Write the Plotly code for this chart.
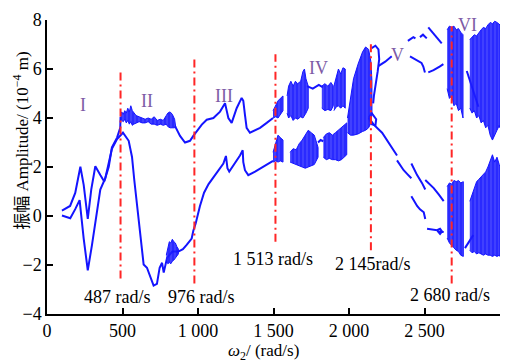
import plotly.graph_objects as go

BLUE = "#1414ff"
RED = "#ff2626"
PURPLE = "#7d5ba6"
SERIF = "Liberation Serif, Times New Roman, serif"

# ---------------- data (omega_2 in rad/s, amplitude in 1e-4 m) ----------------
# periodic branch that rises to the band at 487 rad/s
branch_a_x = [99, 153, 187, 221, 243, 270, 293, 320, 353, 379, 409, 430, 464, 485, 487]
branch_a_y = [0.22, 0.41, 0.94, 2.01, 1.27, -0.12, 1.08, 2.03, 1.67, 1.41, 2.01, 2.80, 3.20, 3.60, 4.05]

# lower periodic branch, region I to the start of region IV
branch_b_x = [99, 154, 187, 216, 243, 270, 298, 331, 353, 386, 430, 464, 503, 541, 563, 578,
              601, 623, 640, 662, 684, 706, 728, 746, 762, 773, 795, 830, 870, 900, 925, 958,
              969, 985, 1013, 1040, 1070, 1124, 1168, 1185, 1195, 1207, 1245, 1278, 1296, 1300,
              1311, 1333, 1378, 1433, 1497]
branch_b_y = [0.02, -0.09, 0.28, 0.65, -0.92, -2.22, -1.18, 0.15, 1.08, 1.54, 2.74, 3.14, 3.40,
              3.07, 2.41, 1.47, 0.15, -1.18, -1.98, -2.11, -2.51, -2.84, -2.77, -2.11, -1.91,
              -2.31, -1.71, -1.45, -1.45, -1.35, -1.18, -0.92, -0.60, -0.30, 0.41, 0.95, 1.30,
              1.74, 2.14, 2.45, 1.95, 1.81, 2.14, 2.47, 2.68, 2.20, 1.87, 1.67, 1.81, 2.01, 2.25]

# upper periodic branch, end of region II through region III
branch_c_x = [848, 881, 914, 947, 969, 991, 1025, 1058, 1102, 1146, 1179, 1190, 1201, 1223,
              1256, 1289, 1300, 1311, 1322, 1344, 1411, 1455, 1497]
branch_c_y = [3.67, 3.27, 3.00, 3.07, 3.27, 3.47, 3.73, 3.93, 4.00, 4.26, 4.60, 4.30, 4.00,
              3.80, 4.40, 4.82, 4.70, 4.13, 3.60, 3.40, 3.60, 3.80, 4.00]

# short periodic pieces in regions IV and V
pieces = [
    ([1722, 1760, 1800, 1828], [5.30, 5.20, 5.35, 5.25]),
    ([1795, 1812, 1830], [3.00, 3.10, 3.05]),
    ([2150, 2175, 2195, 2200, 2190, 2175, 2165, 2160], [6.85, 6.95, 6.80, 6.40, 5.90, 5.40, 4.90, 4.60]),
    ([2194, 2240, 2283], [6.12, 6.30, 6.52]),
    ([2390, 2426, 2440], [7.15, 7.30, 7.25]),
    ([2470, 2490, 2515], [7.30, 7.40, 7.25]),
    ([2525, 2570, 2614], [7.70, 7.35, 7.05]),
    ([2404, 2440, 2480, 2492, 2503], [6.52, 6.40, 6.25, 6.10, 5.86]),
    ([2525, 2560, 2600, 2625], [5.86, 5.95, 6.10, 6.20]),
    ([2131, 2164, 2219, 2263, 2307, 2318], [4.01, 3.73, 3.40, 3.00, 2.61, 2.47]),
    ([2318, 2345, 2362, 2388, 2413], [2.27, 2.01, 1.87, 1.70, 1.54]),
    ([2413, 2431, 2451, 2484, 2505], [2.14, 1.90, 1.67, 1.34, 1.08]),
    ([2505, 2561, 2594, 2627], [1.47, 1.14, 0.88, 0.61]),
    ([2413, 2431, 2451, 2470, 2495, 2505], [0.81, 0.61, 0.41, 0.27, 0.15, -0.12]),
    ([2517, 2550, 2583, 2603, 2616, 2603, 2586, 2627], [-0.52, -0.54, -0.58, -0.52, -0.63, -0.73, -0.61, -0.65]),
    ([2131, 2150, 2180, 2175, 2150, 2131], [4.01, 4.20, 3.95, 3.70, 3.75, 4.01]),
    ([2780, 2820, 2857], [5.92, 5.20, 4.46]),
    ([2768, 2795, 2823], [-1.31, -1.05, -0.78]),
]

# chaotic bands: sampled x with upper and lower envelope of the Poincare points
bands = [
    # region II, upper
    ([487, 495, 505, 515, 525, 535, 545, 555, 565, 575, 590, 610, 630, 650, 670, 690, 710,
      730, 750, 770, 790, 800, 815, 830, 845, 852],
     [4.10, 4.25, 4.15, 4.30, 4.20, 4.40, 4.25, 4.50, 4.30, 4.20, 4.10, 4.05, 4.00, 3.95,
      4.00, 3.95, 4.05, 3.90, 3.95, 3.90, 4.10, 4.20, 4.25, 4.15, 3.95, 3.75],
     [3.95, 3.90, 3.85, 3.95, 3.80, 3.90, 3.75, 3.85, 3.70, 3.75, 3.80, 3.85, 3.80, 3.80,
      3.85, 3.75, 3.75, 3.70, 3.75, 3.70, 3.75, 3.65, 3.60, 3.60, 3.60, 3.65]),
    # region II, lower
    ([790, 800, 810, 820, 830, 840, 850, 860, 870],
     [-1.60, -1.30, -1.05, -1.10, -0.95, -1.05, -1.10, -1.25, -1.35],
     [-1.80, -1.95, -1.90, -1.95, -1.85, -1.80, -1.70, -1.65, -1.55]),
    # region IV, upper
    ([1497, 1515, 1530, 1545, 1563], [4.30, 4.50, 4.70, 4.80, 4.90], [4.00, 4.05, 4.00, 4.15, 4.30]),
    ([1590, 1600, 1615, 1630, 1645, 1660, 1680, 1695, 1705, 1715, 1730],
     [4.90, 5.30, 5.50, 5.30, 5.50, 5.40, 5.50, 5.90, 6.00, 5.60, 5.30],
     [4.20, 4.00, 4.10, 3.90, 4.00, 3.95, 4.05, 4.00, 4.10, 4.20, 4.40]),
    ([1820, 1840, 1860, 1880, 1896], [5.30, 5.40, 5.30, 5.45, 5.30], [4.40, 4.30, 4.35, 4.30, 4.50]),
    ([1900, 1915, 1930, 1945, 1960, 1975], [5.30, 5.60, 6.00, 5.80, 6.05, 6.00],
     [4.30, 4.45, 4.50, 4.40, 4.50, 4.40]),
    ([1990, 2010, 2030, 2060, 2090, 2110, 2130, 2145, 2152],
     [4.00, 4.90, 5.60, 6.20, 6.70, 6.90, 6.80, 6.30, 5.50],
     [3.40, 3.30, 3.30, 3.35, 3.45, 3.50, 3.60, 3.80, 4.20]),
    # region IV, lower
    ([1497, 1515, 1530, 1545, 1563], [2.60, 2.95, 3.30, 3.20, 3.10], [2.20, 2.25, 2.20, 2.25, 2.20]),
    ([1610, 1630, 1650, 1670, 1690, 1710, 1730, 1750, 1770, 1795],
     [2.60, 2.75, 2.70, 2.95, 3.10, 3.30, 3.50, 3.40, 3.30, 2.80],
     [2.20, 2.15, 2.10, 2.05, 2.00, 1.95, 2.00, 2.05, 2.10, 2.40]),
    ([1830, 1850, 1870, 1890, 1910, 1930, 1950, 1970, 1985],
     [3.20, 3.35, 3.40, 3.30, 3.40, 3.50, 3.60, 3.70, 3.80],
     [2.40, 2.30, 2.35, 2.30, 2.30, 2.25, 2.30, 2.40, 2.50]),
    # region VI, upper
    ([2650, 2665, 2680, 2695, 2710, 2725, 2740, 2755],
     [7.60, 7.75, 7.70, 7.75, 7.60, 7.65, 7.50, 7.40],
     [5.20, 4.80, 4.90, 4.50, 4.60, 4.30, 4.40, 4.00]),
    ([2800, 2815, 2830, 2845, 2860, 2875, 2890, 2905, 2920, 2935, 2950, 2965, 2980, 2995, 3000],
     [7.20, 7.30, 7.40, 7.35, 7.50, 7.60, 7.70, 7.65, 7.80, 7.90, 7.85, 7.95, 7.90, 7.85, 7.80],
     [4.40, 4.20, 4.30, 4.00, 4.10, 3.80, 3.90, 3.60, 3.70, 3.30, 3.10, 3.30, 3.50, 3.70, 3.60]),
    # region VI, lower
    ([2650, 2665, 2680, 2695, 2710, 2725, 2740, 2757],
     [1.20, 1.35, 1.30, 1.45, 1.40, 1.45, 1.35, 1.40],
     [-0.90, -1.10, -1.20, -1.30, -1.40, -1.45, -1.60, -1.65]),
    ([2800, 2815, 2830, 2845, 2860, 2875, 2890, 2905, 2920, 2935, 2950, 2965, 2980, 2995, 3000],
     [0.60, 0.90, 1.20, 1.40, 1.50, 1.60, 1.70, 1.80, 2.00, 2.30, 2.50, 2.20, 2.40, 2.10, 2.00],
     [-1.40, -1.50, -1.45, -1.55, -1.50, -1.55, -1.60, -1.55, -1.60, -1.60, -1.65, -1.60, -1.65, -1.60, -1.65]),
]

# region boundaries
boundary_x = [487, 976, 1513, 2145, 2680]
boundary_top = [6.00, 6.50, 6.60, 7.05, 7.75]
boundary_bottom = [-2.55, -2.75, -1.05, -1.40, -2.75]
boundary_labels = ["487 rad/s", "976 rad/s", "1 513 rad/s", "2 145rad/s", "2 680 rad/s"]

region_names = ["I", "II", "III", "IV", "V", "VI"]

x_ticks = [0, 500, 1000, 1500, 2000, 2500, 3000]
x_ticktext = ["0", "500", "1 000", "1 500", "2 000", "2 500", "3 000"]
y_ticks = [-4, -2, 0, 2, 4, 6, 8]
y_ticktext = ["\u22124", "\u22122", "0", "2", "4", "6", "8"]

# ---------------- figure ----------------
fig = go.Figure()

line_style = dict(color=BLUE, width=2)
for bx, by in [(branch_a_x, branch_a_y), (branch_b_x, branch_b_y), (branch_c_x, branch_c_y)]:
    fig.add_trace(go.Scatter(x=bx, y=by, mode="lines", line=line_style, hoverinfo="skip"))

for px_, py_ in pieces:
    fig.add_trace(go.Scatter(x=px_, y=py_, mode="lines", line=line_style, hoverinfo="skip"))

for bx, top, bot in bands:
    fig.add_trace(go.Scatter(
        x=list(bx) + list(bx[::-1]), y=list(top) + list(bot[::-1]),
        mode="lines", fill="toself", line=dict(color=BLUE, width=1),
        fillcolor="rgba(20,20,255,0.9)",
        fillpattern=dict(shape="|", size=4, solidity=0.5, fgcolor=BLUE,
                         bgcolor="rgba(30,30,255,0.85)"),
        hoverinfo="skip"))

for bxv, top, bot in zip(boundary_x, boundary_top, boundary_bottom):
    fig.add_trace(go.Scatter(x=[bxv, bxv], y=[bot, top], mode="lines",
                             line=dict(color=RED, width=2, dash="8px,4px,2px,4px"),
                             hoverinfo="skip"))

# boundary speed labels
label_pos = [(470, -3.32), (1020, -3.32), (1497, -1.76), (2159, -1.96), (2669, -3.24)]
for text, (lx, ly) in zip(boundary_labels, label_pos):
    fig.add_annotation(x=lx, y=ly, text=text, showarrow=False,
                       xanchor="center", yanchor="middle",
                       font=dict(family=SERIF, size=18, color="black"))

# region numerals
name_pos = [(238, 4.53), (662, 4.69), (1172, 4.89), (1795, 6.04), (2318, 6.56), (2782, 7.80)]
for text, (nx, ny) in zip(region_names, name_pos):
    fig.add_annotation(x=nx, y=ny, text=text, showarrow=False,
                       xanchor="center", yanchor="middle",
                       font=dict(family=SERIF, size=18, color=PURPLE))

# axis titles
fig.add_annotation(xref="paper", yref="paper", x=-0.058, y=0.588, textangle=-90,
                   xanchor="center", yanchor="middle",
                   text="振幅 Amplitude/ (10<sup>\u22124</sup> m)", showarrow=False,
                   font=dict(family="Liberation Serif, Noto Sans CJK SC, serif", size=17, color="black"))
fig.add_annotation(xref="paper", yref="paper", x=0.477, y=-0.128,
                   xanchor="center", yanchor="middle",
                   text="<i>\u03c9</i><sub>2</sub>/ (rad/s)", showarrow=False,
                   font=dict(family=SERIF, size=17, color="black"))

axis_common = dict(showgrid=False, zeroline=False, showline=True, linecolor="black",
                   linewidth=1.5, ticks="inside", ticklen=6, tickwidth=1.5,
                   tickcolor="black", mirror=False)
fig.update_xaxes(range=[0, 3000], tickvals=x_ticks, ticktext=x_ticktext, **axis_common)
fig.update_yaxes(range=[-4, 8], tickvals=y_ticks, ticktext=y_ticktext, **axis_common)

fig.update_layout(
    width=510, height=362,
    margin=dict(l=47, r=10, t=13, b=48),
    paper_bgcolor="white", plot_bgcolor="white",
    showlegend=False,
    font=dict(family=SERIF, size=18, color="black"),
)

fig.write_html("out.html")
